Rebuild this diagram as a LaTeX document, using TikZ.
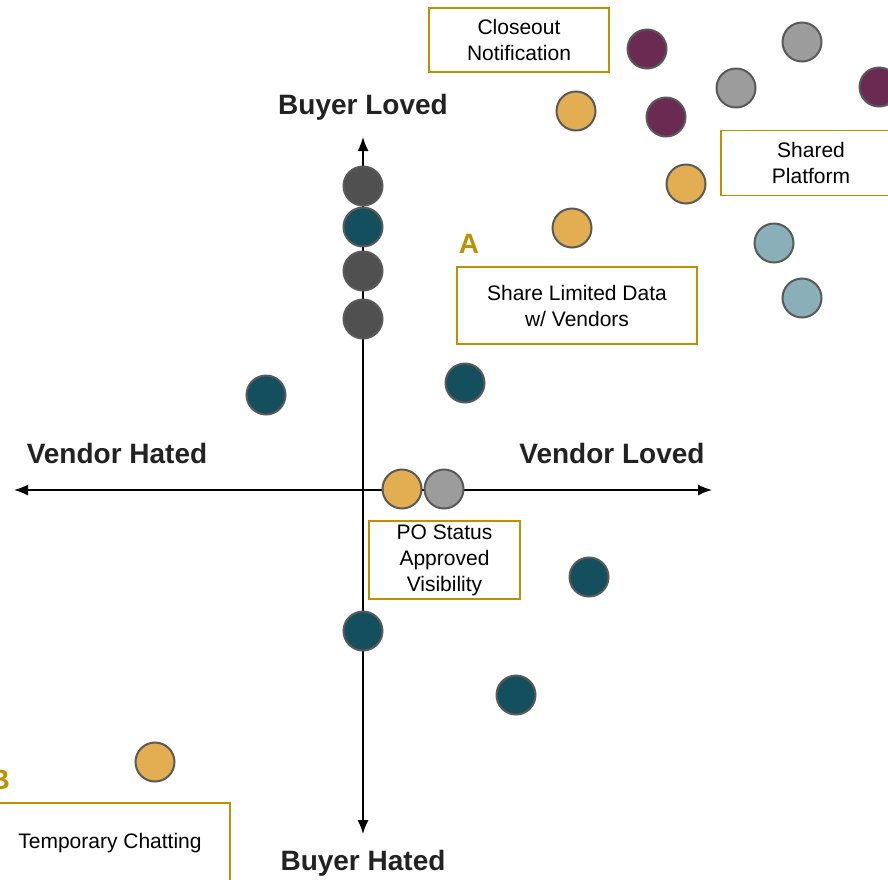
\documentclass[tikz,border=0pt]{standalone}
\usepackage{fontspec}
\setmainfont{Liberation Sans}
\usetikzlibrary{arrows.meta}
\definecolor{plum}{HTML}{6B2A52}
\definecolor{silver}{HTML}{9C9C9C}
\definecolor{mustard}{HTML}{E3AE52}
\definecolor{mist}{HTML}{8BAFB8}
\definecolor{charcoal}{HTML}{505050}
\definecolor{petrol}{HTML}{134F5C}
\definecolor{rim}{HTML}{595959}
\definecolor{gold}{HTML}{BF9000}
\definecolor{ink}{HTML}{222222}
\begin{document}
\begin{tikzpicture}[x=1pt,y=-1pt]
\tikzstyle{dot}=[draw=rim,line width=2pt,shape=circle,minimum size=39pt,inner sep=0pt]
\tikzstyle{idea}=[draw=gold,line width=1.8pt,align=center,inner sep=0pt,font=\fontsize{21}{26}\selectfont]
\tikzstyle{pole}=[anchor=base,inner sep=0pt,text=ink,font=\bfseries\fontsize{28}{32}\selectfont]
\tikzstyle{tag}=[anchor=base,inner sep=0pt,text=gold,font=\bfseries\fontsize{28}{32}\selectfont]
\tikzstyle{axis}=[line width=1.5pt,{Latex[length=14pt,width=11pt]}-{Latex[length=14pt,width=11pt]}]
\clip (0,0) rectangle (888,879);

\coordinate (top) at (363,137);
\coordinate (bottom) at (363,834);
\coordinate (left) at (14,490);
\coordinate (right) at (712,490);

\draw[axis] (left) -- (right);
\draw[axis] (top) -- (bottom);

\node[pole] at (363,114) (bl) {Buyer Loved};
\node[pole] at (363,870) (bh) {Buyer Hated};
\node[pole] at (117,463) (vh) {Vendor Hated};
\node[pole] at (612,463) (vl) {Vendor Loved};

\node[tag] at (469,253) (ta) {A};
\node[tag,anchor=base east] at (10,789) (tb) {B};

\node[dot,fill=plum] at (647,49) (p1) {};
\node[dot,fill=plum] at (666,117) (p2) {};
\node[dot,fill=plum] at (879,87) (p3) {};
\node[dot,fill=silver] at (802,42) (p4) {};
\node[dot,fill=silver] at (736,88) (p5) {};
\node[dot,fill=mustard] at (576,111) (p6) {};
\node[dot,fill=mustard] at (686,184) (p7) {};
\node[dot,fill=mustard] at (572,228) (p8) {};
\node[dot,fill=mist] at (774,243) (p9) {};
\node[dot,fill=mist] at (802,298) (p10) {};
\node[dot,fill=charcoal] at (363,186) (p11) {};
\node[dot,fill=petrol] at (363,227) (p12) {};
\node[dot,fill=charcoal] at (363,271) (p13) {};
\node[dot,fill=charcoal] at (363,319) (p14) {};
\node[dot,fill=petrol] at (266,395) (p15) {};
\node[dot,fill=petrol] at (465,383) (p16) {};
\node[dot,fill=mustard] at (402,489) (p17) {};
\node[dot,fill=silver] at (444,489) (p18) {};
\node[dot,fill=petrol] at (589,577) (p19) {};
\node[dot,fill=petrol] at (363,631) (p20) {};
\node[dot,fill=petrol] at (516,695) (p21) {};
\node[dot,fill=mustard] at (155,762) (p22) {};

\node[idea,minimum width=180pt,minimum height=64pt] at (519,40) (b1) {Closeout\\Notification};
\node[idea,minimum width=180pt,minimum height=65pt] at (811,163) (b2) {Shared\\Platform};
\node[idea,minimum width=240pt,minimum height=77pt] at (577,305.5) (b3) {Share Limited Data\\w/ Vendors};
\node[idea,minimum width=151pt,minimum height=78pt] at (444.5,560) (b4) {PO Status\\Approved\\Visibility};
\node[idea,minimum width=240pt,minimum height=80pt] at (110,843) (b5) {Temporary Chatting};
\end{tikzpicture}
\end{document}
